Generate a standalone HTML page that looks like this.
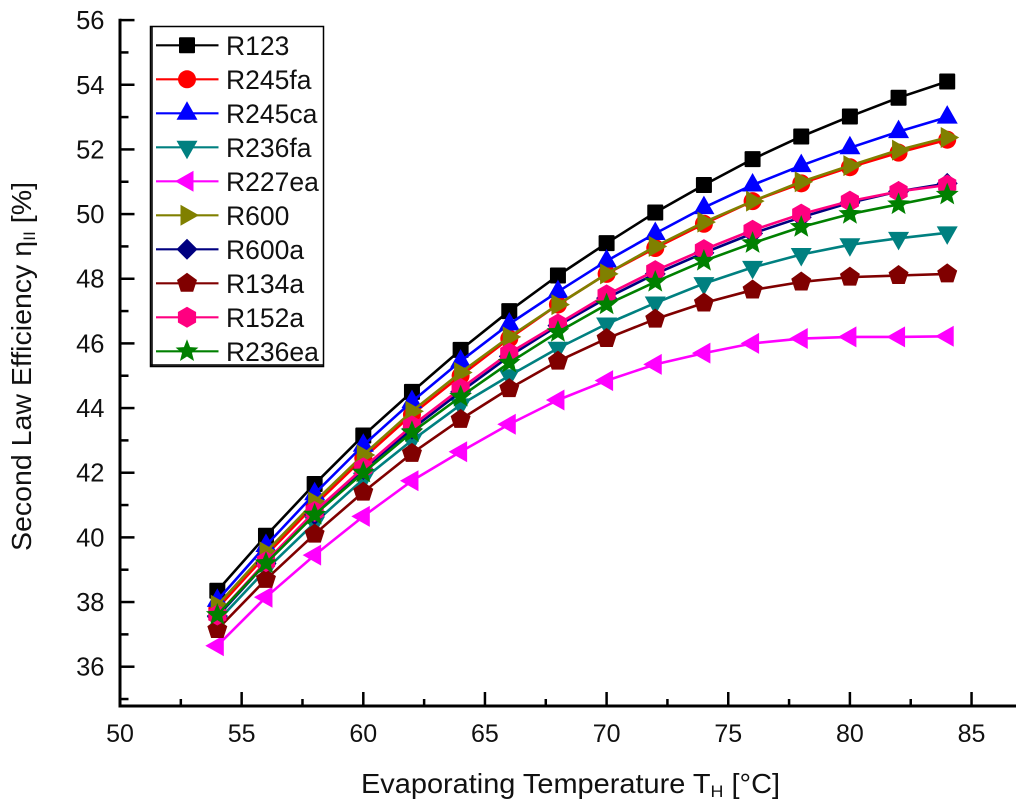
<!DOCTYPE html>
<html>
<head>
<meta charset="utf-8">
<title>Second Law Efficiency vs Evaporating Temperature</title>
<style>
html,body{margin:0;padding:0;background:#fff;}
svg{display:block;}
text{font-family:"Liberation Sans",sans-serif;fill:#111;}
</style>
</head>
<body>
<svg id="chart" xmlns="http://www.w3.org/2000/svg" width="1024" height="808" viewBox="0 0 1024 808">
  <g id="axes"></g>
  <g id="series"></g>
  <text x="361" y="793" font-size="27.5" textLength="419" lengthAdjust="spacingAndGlyphs">Evaporating Temperature T<tspan font-size="17" dy="4">H</tspan><tspan dy="-4"> [°C]</tspan></text>
  <text transform="translate(31,551) rotate(-90)" x="0" y="0" font-size="27.5" textLength="369" lengthAdjust="spacingAndGlyphs">Second Law Efficiency η<tspan font-size="17" dy="4">II</tspan><tspan dy="-4"> [%]</tspan></text>
  <g id="legend"></g>
</svg>
<script>
const temperatures = [54,56,58,60,62,64,66,68,70,72,74,76,78,80,82,84];
const xTickLabels = [50,55,60,65,70,75,80,85];
const xMinorTicks = [52.5,57.5,62.5,67.5,72.5,77.5,82.5];
const yTickLabels = [36,38,40,42,44,46,48,50,52,54,56];
const yMinorTicks = [35,37,39,41,43,45,47,49,51,53,55];
const seriesNames = ["R123","R245fa","R245ca","R236fa","R227ea","R600","R600a","R134a","R152a","R236ea"];
const seriesColors = ["#000000","#ff0000","#0000ff","#008080","#ff00ff","#808000","#000080","#800000","#ff0080","#008000"];
const seriesShapes = ["square","circle","up","down","left","right","diamond","pentagon","hexagon","star"];
const r123 = [38.35,40.05,41.65,43.15,44.5,45.8,47.0,48.1,49.1,50.05,50.9,51.7,52.4,53.02,53.6,54.1];
const r245fa = [37.8,39.45,41.0,42.45,43.8,45.0,46.15,47.2,48.15,48.95,49.7,50.4,50.95,51.45,51.9,52.3];
const r245ca = [38.05,39.75,41.35,42.85,44.2,45.45,46.6,47.6,48.55,49.4,50.2,50.9,51.5,52.05,52.55,53.0];
const r236fa = [37.4,39.0,40.45,41.8,43.0,44.1,45.0,45.85,46.6,47.25,47.85,48.35,48.75,49.05,49.25,49.42];
const r227ea = [36.65,38.15,39.45,40.65,41.75,42.65,43.5,44.25,44.85,45.35,45.7,46.0,46.15,46.2,46.2,46.22];
const r600 = [37.9,39.55,41.1,42.55,43.9,45.1,46.2,47.2,48.15,49.0,49.75,50.4,51.0,51.5,51.98,52.37];
const r600a = [37.55,39.2,40.7,42.1,43.35,44.5,45.6,46.55,47.4,48.15,48.8,49.4,49.9,50.35,50.7,50.95];
const r134a = [37.15,38.7,40.1,41.4,42.6,43.65,44.6,45.45,46.15,46.75,47.25,47.65,47.9,48.05,48.1,48.15];
const r152a = [37.6,39.25,40.8,42.15,43.45,44.6,45.7,46.6,47.5,48.25,48.9,49.5,50.0,50.4,50.7,50.9];
const r236ea = [37.6,39.2,40.7,42.0,43.25,44.35,45.4,46.35,47.2,47.9,48.55,49.1,49.6,50.0,50.3,50.6];
const seriesValues = [r123,r245fa,r245ca,r236fa,r227ea,r600,r600a,r134a,r152a,r236ea];

const NS = "http://www.w3.org/2000/svg";
function xScale(v){ return 120 + (v - 50) * 24.33; }
function yScale(v){ return 666.7 - (v - 36) * 32.33; }
function make(parent, tag, attrs){
  const el = document.createElementNS(NS, tag);
  for (const k in attrs) el.setAttribute(k, attrs[k]);
  parent.appendChild(el);
  return el;
}
function poly(pts){ return pts.map(p => p[0].toFixed(2) + "," + p[1].toFixed(2)).join(" "); }
function regular(cx, cy, r, n, start){
  const pts = [];
  for (let i = 0; i < n; i++){
    const a = start + i * 2 * Math.PI / n;
    pts.push([cx + r * Math.cos(a), cy + r * Math.sin(a)]);
  }
  return pts;
}
function drawMarker(parent, shape, cx, cy, color){
  if (shape === "square") return make(parent, "rect", {x:cx-8, y:cy-8, width:16, height:16, rx:1, fill:color});
  if (shape === "circle") return make(parent, "circle", {cx:cx, cy:cy, r:9, fill:color});
  let pts;
  if (shape === "up") pts = [[cx,cy-12],[cx+10.5,cy+6.5],[cx-10.5,cy+6.5]];
  if (shape === "down") pts = [[cx,cy+12],[cx+10.5,cy-6.5],[cx-10.5,cy-6.5]];
  if (shape === "left") pts = [[cx-12,cy],[cx+6.5,cy-10.5],[cx+6.5,cy+10.5]];
  if (shape === "right") pts = [[cx+12,cy],[cx-6.5,cy-10.5],[cx-6.5,cy+10.5]];
  if (shape === "diamond") pts = [[cx,cy-10.5],[cx+10.5,cy],[cx,cy+10.5],[cx-10.5,cy]];
  if (shape === "pentagon") pts = regular(cx, cy, 10.5, 5, -Math.PI/2);
  if (shape === "hexagon") pts = regular(cx, cy, 10.5, 6, -Math.PI/2);
  if (shape === "star"){
    pts = [];
    for (let i = 0; i < 10; i++){
      const a = -Math.PI/2 + i * Math.PI / 5;
      const r = i % 2 ? 5.2 : 12;
      pts.push([cx + r * Math.cos(a), cy + r * Math.sin(a)]);
    }
  }
  return make(parent, "polygon", {points:poly(pts), fill:color});
}

const axes = document.getElementById("axes");
const yAxisLine = make(axes, "line", {x1:120, y1:18.7, x2:120, y2:707.5, stroke:"#000", "stroke-width":3});


const xAxisLine = make(axes, "line", {x1:118.5, y1:706, x2:1016, y2:706, stroke:"#000", "stroke-width":3});



xTickLabels.forEach(v => {
  const px = xScale(v);
  const tick = make(axes, "line", {x1:px, y1:692, x2:px, y2:706, stroke:"#000", "stroke-width":2.5});
  
  
  const label = make(axes, "text", {x:px, y:742, "font-size":25, "text-anchor":"middle"});
  
  
  label.textContent = v;
});
xMinorTicks.forEach(v => {
  const px = xScale(v);
  const tick = make(axes, "line", {x1:px, y1:699, x2:px, y2:706, stroke:"#000", "stroke-width":2.5});
  
  
});
yTickLabels.forEach(v => {
  const py = yScale(v);
  const tick = make(axes, "line", {x1:120, y1:py, x2:134.5, y2:py, stroke:"#000", "stroke-width":2.5});
  
  
  const label = make(axes, "text", {x:104.5, y:py + 9, "font-size":25.5, "text-anchor":"end"});
  
  
  label.textContent = v;
});
yMinorTicks.forEach(v => {
  const py = yScale(v);
  const tick = make(axes, "line", {x1:120, y1:py, x2:128.5, y2:py, stroke:"#000", "stroke-width":2.5});
  
  
});

const seriesGroup = document.getElementById("series");
seriesNames.forEach((name, i) => {
  const g = make(seriesGroup, "g", {});
  
  
  const vals = seriesValues[i];
  const pts = temperatures.map((t, j) => [xScale(t), yScale(vals[j])]);
  const line = make(g, "polyline", {points:poly(pts), fill:"none", stroke:seriesColors[i], "stroke-width":2.6, "stroke-linejoin":"round"});
  
  
  pts.forEach(p => {
    const m = drawMarker(g, seriesShapes[i], p[0], p[1], seriesColors[i]);
    
    
  });
});

const legend = document.getElementById("legend");
const legendBox = make(legend, "rect", {x:150.5, y:26.5, width:173, height:340, fill:"#fff", stroke:"#000", "stroke-width":1.5});


const legendLeft = make(legend, "line", {x1:152, y1:27, x2:152, y2:366, stroke:"#000", "stroke-width":1.5});


const legendBottom = make(legend, "line", {x1:151, y1:365, x2:323, y2:365, stroke:"#000", "stroke-width":1.5});


seriesNames.forEach((name, i) => {
  const cy = 45.3 + i * 34;
  const g = make(legend, "g", {});
  
  
  const sample = make(g, "line", {x1:156, y1:cy, x2:218.5, y2:cy, stroke:seriesColors[i], "stroke-width":2.2});
  
  
  const m = drawMarker(g, seriesShapes[i], 187, cy, seriesColors[i]);
  
  
  const t = make(g, "text", {x:226, y:cy + 9.5, "font-size":26.5});
  
  
  t.textContent = name;
});
</script>
</body>
</html>
